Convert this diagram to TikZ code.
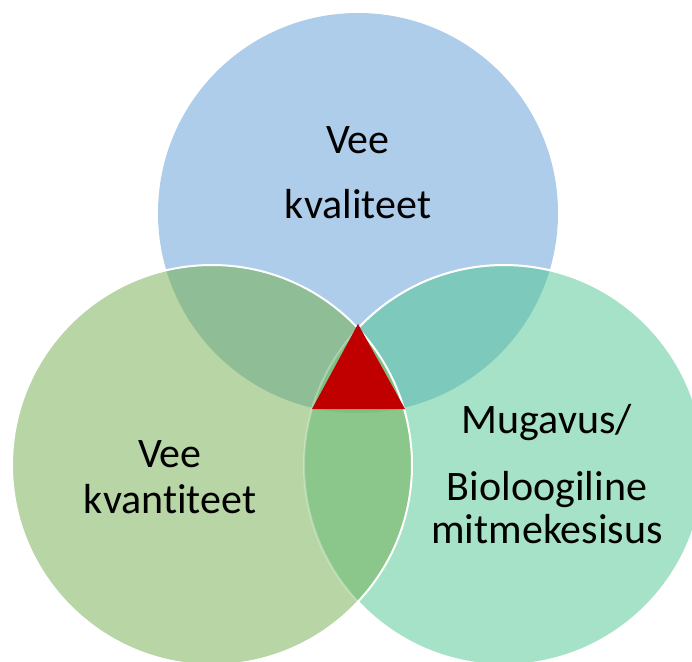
\documentclass[tikz,border=0pt]{standalone}
\usepackage{fontspec}
\setmainfont{Carlito}[Ligatures={NoCommon}]
\definecolor{ctop}{HTML}{AECDEA}
\definecolor{cleft}{HTML}{B7D5A5}
\definecolor{cright}{HTML}{A5E2C7}
\definecolor{ctl}{HTML}{8EBD96}
\definecolor{ctr}{HTML}{7DC9BC}
\definecolor{clr}{HTML}{8BC78A}
\definecolor{call}{HTML}{7FBF82}
\definecolor{cred}{HTML}{C00000}
\tikzset{
  lbl/.style={anchor=base, inner sep=0pt, font=\fontsize{21pt}{25pt}\selectfont, text=black},
  rim/.style={draw=white, line width=1pt}
}
\begin{document}
\begin{tikzpicture}[x=0.5pt, y=-0.5pt]
\useasboundingbox (0,0) rectangle (692,661);
\begin{scope}
\clip (0,0) rectangle (692,661);
\coordinate (T) at (358,213);
\coordinate (L) at (212,465);
\coordinate (R) at (504,465);
% base fills
\fill[ctop] (T) circle[radius=100pt];
\fill[cright] (R) circle[radius=100pt];
\fill[cleft] (L) circle[radius=100pt];
% pairwise overlaps
\begin{scope}\clip (T) circle[radius=100pt]; \fill[ctl] (L) circle[radius=100pt];\end{scope}
\begin{scope}\clip (T) circle[radius=100pt]; \fill[ctr] (R) circle[radius=100pt];\end{scope}
\begin{scope}\clip (L) circle[radius=100pt]; \fill[clr] (R) circle[radius=100pt];\end{scope}
\begin{scope}\clip (L) circle[radius=100pt]; \clip (T) circle[radius=100pt]; \fill[call] (R) circle[radius=100pt];\end{scope}
% outlines
\begin{scope}[even odd rule]
\clip (-10,-10) rectangle (702,671) (L) circle[radius=100pt];
\draw[rim] (R) circle[radius=100pt];
\end{scope}
\draw[rim, draw opacity=0.3] (R) circle[radius=100pt];
\draw[rim] (L) circle[radius=100pt];
\end{scope}
% center triangle
\coordinate (v1) at (358,324);
\coordinate (v2) at (312,409);
\coordinate (v3) at (405,409);
\fill[cred] (v1) -- (v2) -- (v3) -- cycle;
% labels
\node[lbl] (t1) at (358,153) {Vee};
\node[lbl] (t2) at (358,218) {kvaliteet};
\node[lbl] (l1) at (170,467) {Vee};
\node[lbl] (l2) at (170,513) {kvantiteet};
\node[lbl] (r1) at (547,433) {Mugavus/};
\node[lbl] (r2) at (547,500) {Bioloogiline};
\node[lbl] (r3) at (547,543) {mitmekesisus};
\end{tikzpicture}
\end{document}
